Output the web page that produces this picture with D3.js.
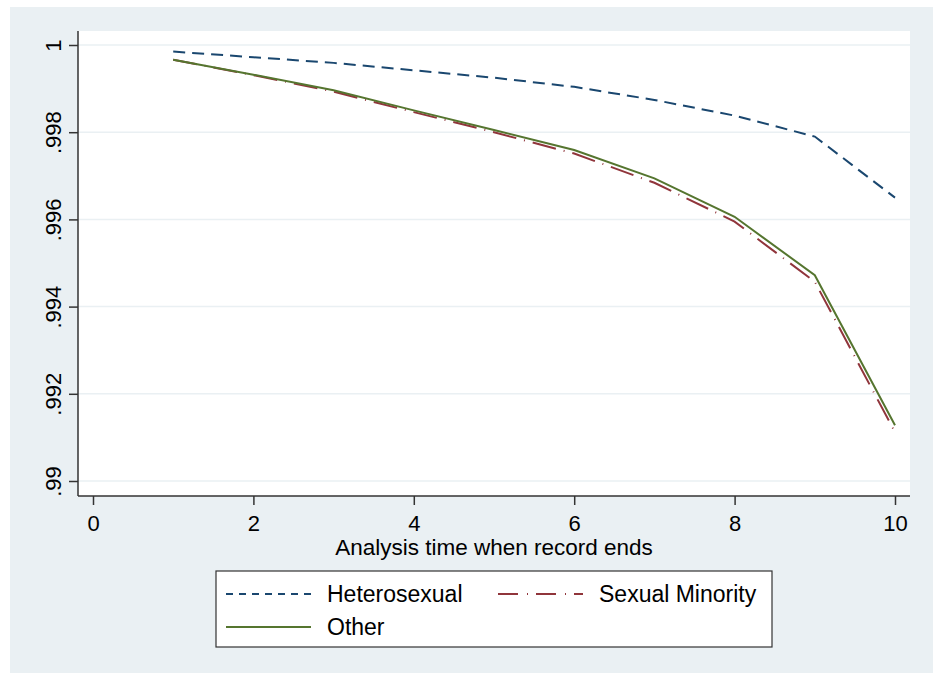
<!DOCTYPE html>
<html>
<head>
<meta charset="utf-8">
<script src="https://cdn.jsdelivr.net/npm/d3@7"></script>
<style>
  body { margin: 0; background: #fff; }
  svg { display: block; font-family: "Liberation Sans", Arial, sans-serif; }
</style>
</head>
<body>
<div id="chart"></div>
<script>
// analysis time (x) and survival estimates per group
const times = [1, 2, 3, 4, 5, 6, 7, 8, 9, 10];
const hetero   = [0.99985, 0.99972, 0.99959, 0.99942, 0.99925, 0.99904, 0.99874, 0.99838, 0.99790, 0.99650];
const minority = [0.99966, 0.99931, 0.99893, 0.99846, 0.99800, 0.99751, 0.99684, 0.99595, 0.99457, 0.99112];
const other    = [0.99966, 0.99932, 0.99896, 0.99850, 0.99805, 0.99759, 0.99694, 0.99606, 0.99472, 0.99128];
const xTicks = [0, 2, 4, 6, 8, 10];
const yTicks = [0.99, 0.992, 0.994, 0.996, 0.998, 1];
const yTickLabels = [".99", ".992", ".994", ".996", ".998", "1"];

const series = [
  { name: "Heterosexual",    values: hetero,   color: "#1a476f", dash: "12,7",     legDash: "7,6" },
  { name: "Sexual Minority", values: minority, color: "#90353b", dash: "24,8,1,8", legDash: "20,9,1,8" },
  { name: "Other",           values: other,    color: "#55752f", dash: null,       legDash: null }
];

const W = 935, H = 674;
const bg = "#eaf0f3";
const font = '"Liberation Sans", Arial, sans-serif';

const svg = d3.select("#chart").append("svg")
  .attr("width", W).attr("height", H);

// outer graph region
svg.append("rect")
  .attr("x", 10).attr("y", 7).attr("width", 923).attr("height", 666)
  .attr("fill", bg);

// plot region
const plot = { left: 78, right: 910, top: 31, bottom: 496 };
svg.append("rect")
  .attr("x", plot.left).attr("y", plot.top)
  .attr("width", plot.right - plot.left).attr("height", plot.bottom - plot.top)
  .attr("fill", "#fff");

const x = d3.scaleLinear().domain([0, 10]).range([93, 895]);
const y = d3.scaleLinear().domain([0.99, 1]).range([481, 45]);

// gridlines
svg.append("g")
  .selectAll("line")
  .data(yTicks)
  .join("line")
  .attr("x1", plot.left).attr("x2", plot.right)
  .attr("y1", (d) => y(d)).attr("y2", (d) => y(d))
  .attr("stroke", bg)
  .attr("stroke-width", 1.5);

// lines
const line = d3.line()
  .x((d) => x(d[0]))
  .y((d) => y(d[1]));

series.forEach((s) => {
  svg.append("path")
    .datum(times.map((t, i) => [t, s.values[i]]))
    .attr("fill", "none")
    .attr("stroke", s.color)
    .attr("stroke-width", 2)
    .attr("stroke-dasharray", s.dash)
    .attr("d", line);
});

// Y axis
const yAxis = svg.append("g")
  .attr("transform", `translate(${plot.left},0)`)
  .call(d3.axisLeft(y).tickValues(yTicks).tickSize(9).tickPadding(0)
    .tickFormat((d, i) => yTickLabels[i]))
  .style("font-family", font);
yAxis.select(".domain")
  .attr("d", `M0,${plot.top}V${plot.bottom}`)
  .attr("stroke", "#333").attr("stroke-width", 1.5);
yAxis.selectAll(".tick line").attr("stroke", "#333").attr("stroke-width", 1.5);
yAxis.selectAll(".tick text")
  .attr("x", null).attr("dy", null)
  .attr("transform", "translate(-17,0) rotate(-90)")
  .attr("text-anchor", "middle")
  .style("font-size", "22px")
  .attr("fill", "#000");

// X axis
const xAxis = svg.append("g")
  .attr("transform", `translate(0,${plot.bottom})`)
  .call(d3.axisBottom(x).tickValues(xTicks).tickSize(9).tickPadding(0))
  .style("font-family", font);
xAxis.select(".domain")
  .attr("d", `M${plot.left},0H${plot.right}`)
  .attr("stroke", "#333").attr("stroke-width", 1.5);
xAxis.selectAll(".tick line").attr("stroke", "#333").attr("stroke-width", 1.5);
xAxis.selectAll(".tick text")
  .attr("y", 35).attr("dy", null)
  .style("font-size", "22px")
  .attr("fill", "#000");

// X axis title
svg.append("text")
  .attr("x", (plot.left + plot.right) / 2).attr("y", 555)
  .attr("text-anchor", "middle")
  .style("font-size", "22.5px")
  .attr("fill", "#000")
  .text("Analysis time when record ends");

// Legend
const leg = svg.append("g");
leg.append("rect")
  .attr("x", 216).attr("y", 571).attr("width", 556).attr("height", 76)
  .attr("fill", "#fff").attr("stroke", "#333").attr("stroke-width", 1.2);

const legPos = [
  { x: 226, y: 594 },
  { x: 498, y: 594 },
  { x: 226, y: 627 }
];
series.forEach((s, i) => {
  const p = legPos[i];
  leg.append("line")
    .attr("x1", p.x).attr("x2", p.x + 85)
    .attr("y1", p.y).attr("y2", p.y)
    .attr("stroke", s.color).attr("stroke-width", 2)
    .attr("stroke-dasharray", s.legDash);
  leg.append("text")
    .attr("x", p.x + 101).attr("y", p.y + 8)
    .style("font-size", "23px")
    .attr("fill", "#000")
    .text(s.name);
});
</script>
</body>
</html>
